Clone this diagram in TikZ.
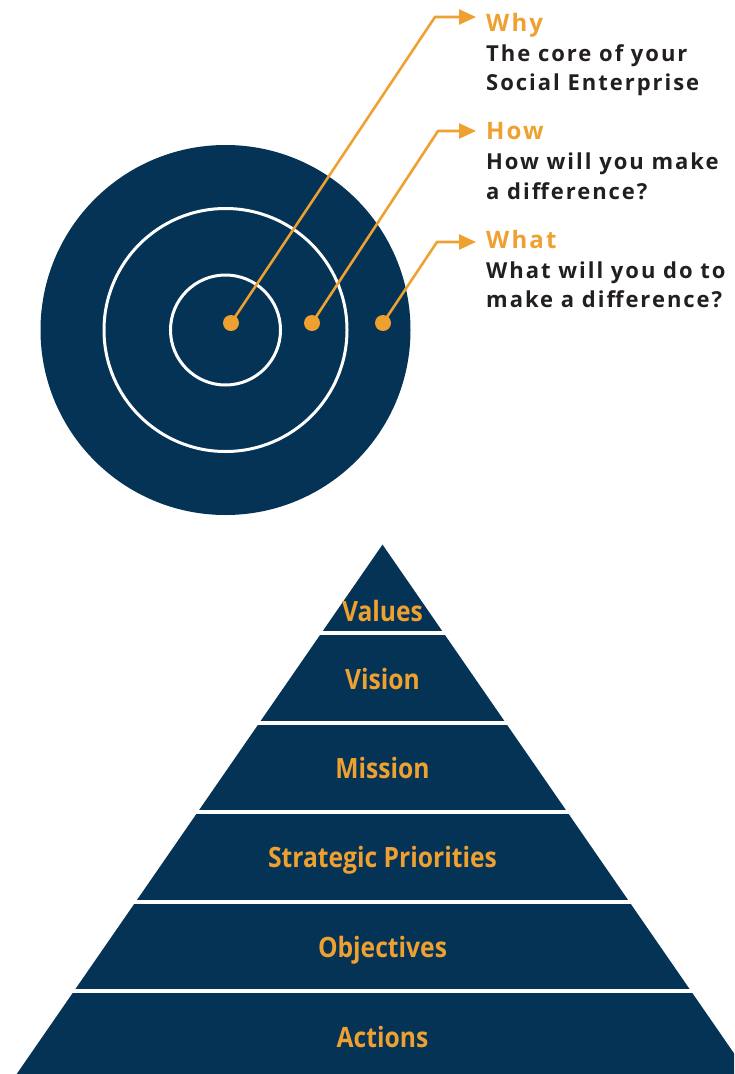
\documentclass[tikz,border=0pt]{standalone}
\usepackage{fontspec}
\setmainfont{Open Sans}
\newfontfamily\widefont{Open Sans}[LetterSpace=9]
\newfontfamily\narrowfont{Open Sans}[FakeStretch=0.88]
\usetikzlibrary{arrows.meta,positioning,calc}
\definecolor{navy}{RGB}{4,51,86}
\definecolor{amber}{RGB}{238,160,48}
\definecolor{ink}{RGB}{35,31,32}
\tikzset{
	hitdot/.style={
		circle,
		fill=amber,
		minimum size=16pt,
		inner sep=0pt,
	},
	pointer/.style={
		->,
		draw=amber,
		line width=2.6pt,
	},
	headline/.style={
		anchor=base west,
		inner sep=0pt,
		text=amber,
		font=\widefont\fontsize{24}{24}\selectfont\bfseries,
	},
	caption/.style={
		anchor=base west,
		inner sep=0pt,
		text=ink,
		font=\widefont\fontsize{22}{22}\selectfont\bfseries,
	},
	tier/.style={
		anchor=base,
		inner sep=0pt,
		text=amber,
		font=\narrowfont\fontsize{28}{28}\selectfont\bfseries,
	},
}

\begin{document}
\begin{tikzpicture}[x=1pt,y=-1pt,>={Triangle[length=17pt,width=15pt]}]
		\clip (0,0) rectangle (734,1074);
		
		% target
		\fill[navy] (225.5,330) circle (185pt);
		\draw[white, line width=3pt] (225.5,330) circle (121.5pt);
		\draw[white, line width=3pt] (225.5,330) circle (55pt);
		
		\node [hitdot] (Dwhy) at (231,323) {};
		\node [hitdot] (Dhow) at (312,323) {};
		\node [hitdot] (Dwhat) at (383,323) {};
		
		\coordinate (Kwhy) at (435,17);
		\coordinate (Kwhy-tip) at (476,17);
		\coordinate (Khow) at (438,131);
		\coordinate (Khow-tip) at (476,131);
		\coordinate (Kwhat) at (437,242);
		\coordinate (Kwhat-tip) at (476,242);
		
		\draw[pointer] (Dwhy.center) -- (Kwhy) -- (Kwhy-tip);
		\draw[pointer] (Dhow.center) -- (Khow) -- (Khow-tip);
		\draw[pointer] (Dwhat.center) -- (Kwhat) -- (Kwhat-tip);
		
		\node [headline] (Hwhy) at (486,31.7) {Why};
		\node [caption] (Twhy1) at (486,61) {The core of your};
		\node [caption] (Twhy2) at (486,90) {Social Enterprise};
		
		\node [headline] (Hhow) at (486,139) {How};
		\node [caption] (Thow1) at (486,169) {How will you make};
		\node [caption] (Thow2) at (486,199) {a difference?};
		
		\node [headline] (Hwhat) at (486,248) {What};
		\node [caption] (Twhat1) at (486,278) {What will you do to};
		\node [caption] (Twhat2) at (486,307) {make a difference?};
		
		% pyramid
		\fill[navy] (382.5,544.6) -- (748.3,1074) -- (16.7,1074) -- cycle;
		\draw[white, line width=4pt] (0,633) -- (734,633);
		\draw[white, line width=4pt] (0,722.5) -- (734,722.5);
		\draw[white, line width=4pt] (0,812) -- (734,812);
		\draw[white, line width=4pt] (0,901.5) -- (734,901.5);
		\draw[white, line width=4pt] (0,991) -- (734,991);
		
		\node [tier] (values) at (382.5,621) {Values};
		\node [tier] (vision) at (382.5,689) {Vision};
		\node [tier] (mission) at (382.5,778) {Mission};
		\node [tier] (priorities) at (382.5,867.5) {Strategic Priorities};
		\node [tier] (objectives) at (382.5,957) {Objectives};
		\node [tier] (actions) at (382.5,1047) {Actions};
	\end{tikzpicture}
\end{document}
